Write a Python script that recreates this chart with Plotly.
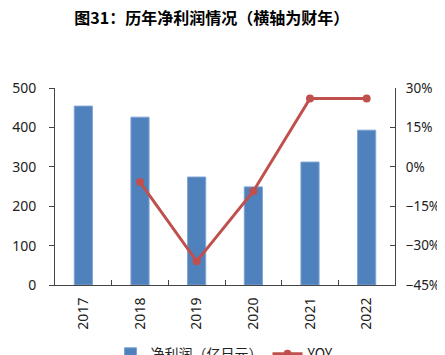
import plotly.graph_objects as go

years = ["2017", "2018", "2019", "2020", "2021", "2022"]
net_profit = [454, 426, 274, 249, 312, 393]
yoy = [None, -5.8, -36.0, -9.3, 26.0, 26.0]

font_fam = "Noto Sans, Noto Sans CJK SC, sans-serif"

fig = go.Figure()
fig.add_trace(go.Bar(
    x=years, y=net_profit, name="净利润（亿日元）",
    marker=dict(color="#4F81BD", line=dict(color="#7FA3D3", width=1)),
    width=0.32, yaxis="y"))
fig.add_trace(go.Scatter(
    x=years, y=yoy, name="YOY", mode="lines+markers",
    line=dict(color="#C0504D", width=3),
    marker=dict(color="#C0504D", size=8),
    yaxis="y2"))

fig.update_layout(
    width=445, height=355,
    margin=dict(l=47, r=58, t=80, b=78, autoexpand=False),
    paper_bgcolor="white", plot_bgcolor="white",
    font=dict(family=font_fam, size=14, color="#222"),
    title=dict(text="<b>图31：历年净利润情况（横轴为财年）</b>", x=0.458, xanchor="center",
               y=0.972, yanchor="middle",
               font=dict(size=16, color="#000", family="Noto Sans CJK SC, sans-serif")),
    showlegend=True,
    legend=dict(orientation="h", x=0.5, xanchor="center", y=-0.27, yanchor="top",
                font=dict(size=14, family="Noto Sans CJK SC, sans-serif"),
                itemwidth=30, tracegroupgap=0),
    bargap=0.5,
    xaxis=dict(type="category", showline=True, linecolor="#444", linewidth=1,
               ticks="inside", tickson="boundaries", ticklen=5, tickcolor="#444",
               tickangle=-90, showgrid=False, zeroline=False, automargin=False,
               ticklabelstandoff=6),
    yaxis=dict(range=[0, 500], dtick=100, showline=True, linecolor="#444", linewidth=1,
               ticks="outside", ticklen=5, tickcolor="#444", showgrid=False, zeroline=False,
               automargin=False, ticklabelstandoff=10),
    yaxis2=dict(range=[-45, 30], dtick=15, overlaying="y", side="right", showline=True,
                linecolor="#444", linewidth=1, ticks="inside", ticklen=5, tickcolor="#444",
                ticksuffix="%", showgrid=False, zeroline=False, automargin=False,
                ticklabelstandoff=7, tickfont=dict(size=13.5)),
)

fig.write_html("out.html")
